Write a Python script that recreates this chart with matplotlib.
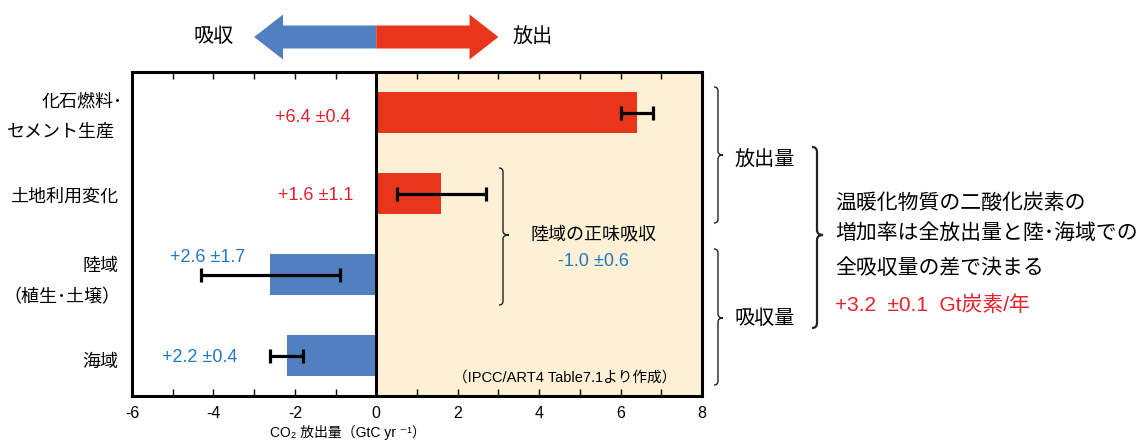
import matplotlib
matplotlib.use("Agg")
import matplotlib.pyplot as plt
from matplotlib.patches import Polygon, PathPatch
from matplotlib.path import Path
from matplotlib import transforms
from matplotlib.ticker import MultipleLocator

plt.rcParams['font.family'] = ['Liberation Sans', 'Noto Sans CJK JP', 'DejaVu Sans']
plt.rcParams['axes.unicode_minus'] = False

# ---- data (GtC / yr) ----
categories = ["化石燃料･\nセメント生産", "土地利用変化", "陸域\n（植生･土壌）", "海域"]
flux = [6.4, 1.6, -2.6, -2.2]          # + emission, - uptake
uncertainty = [0.4, 1.1, 1.7, 0.4]
net_land = -1.0
net_land_err = 0.6
growth = 3.2
growth_err = 0.1
xticks = [-6, -4, -2, 0, 2, 4, 6, 8]

RED = "#E8361C"
BLUE = "#5080C0"
BEIGE = "#FDF0D5"
TXT_RED = "#E8202A"
TXT_BLUE = "#1F78C8"

W, H = 1138, 441
fig = plt.figure(figsize=(W / 100, H / 100), dpi=100)


def fx(x):
    return x / W


def fy(y):
    return 1 - y / H


ax = fig.add_axes([fx(132), fy(396), (702 - 132) / W, (396 - 72) / H])
ax.set_xlim(-6, 8)
ax.set_ylim(3.5, -0.5)
ax.axvspan(0, 8, color=BEIGE, zorder=0, lw=0)

pos = list(range(len(categories)))
colors = [RED if v > 0 else BLUE for v in flux]
ax.barh(pos, flux, height=0.5, color=colors, zorder=2,
        xerr=uncertainty,
        error_kw=dict(ecolor="black", elinewidth=2.3, capsize=4.7, capthick=2.3, zorder=3))
ax.axvline(0, color="black", lw=2.2, zorder=4)

for s in ax.spines.values():
    s.set_linewidth(2.2)
    s.set_zorder(5)

ax.set_xticks(xticks)
ax.set_xticklabels([str(t) for t in xticks])
ax.xaxis.set_minor_locator(MultipleLocator(1))
ax.tick_params(axis="x", which="both", direction="in", top=True, length=5, width=1,
               labelsize=11.5, pad=7)
ax.set_yticks([])

# category labels on the left (one text per line, right-aligned)
label_px = [[(123, 102), (115, 132)],
            [(118, 197)],
            [(118, 267), (120, 298)],
            [(118, 362)]]
for name, places in zip(categories, label_px):
    for s, (x, y) in zip(name.split("\n"), places):
        fig.text(fx(x), fy(y), s, ha="right", va="center", fontsize=13)

# value labels
val_px = [(313, 117), (316, 196), (208, 257), (200, 357)]
for v, e, (x, y) in zip(flux, uncertainty, val_px):
    fig.text(fx(x), fy(y), f"+{abs(v):.1f} ±{e:.1f}", ha="center", va="center",
             fontsize=13, color=TXT_RED if v > 0 else TXT_BLUE)

# x axis title
fig.text(fx(348), fy(432), "CO₂ 放出量（GtC yr ⁻¹）", ha="center", va="center", fontsize=10)

# direction arrows above the axes
bt = transforms.blended_transform_factory(ax.transData, fig.transFigure)
cy, sh, hh, hl = 37, 11.5, 22.5, 0.71
for tip, col in [(-3.0, BLUE), (3.0, RED)]:
    b = tip - hl if tip > 0 else tip + hl
    pts = [(0, cy - sh), (b, cy - sh), (b, cy - hh), (tip, cy), (b, cy + hh), (b, cy + sh), (0, cy + sh)]
    poly = Polygon([(x, fy(y)) for x, y in pts], closed=True, facecolor=col, edgecolor="none",
                   transform=bt, clip_on=False)
    fig.add_artist(poly)
fig.text(fx(214), fy(37), "吸収", ha="center", va="center", fontsize=14.5)
fig.text(fx(533), fy(37), "放出", ha="center", va="center", fontsize=14.5)


def brace(x, y0, y1, ym, tip=5, r=4, lw=1.0):
    verts = [(x - r, y0), (x, y0), (x, y0 + r), (x, ym - r), (x, ym), (x + tip, ym),
             (x, ym), (x, ym + r), (x, y1 - r), (x, y1), (x - r, y1)]
    codes = [Path.MOVETO, Path.CURVE3, Path.CURVE3, Path.LINETO, Path.CURVE3, Path.CURVE3,
             Path.CURVE3, Path.CURVE3, Path.LINETO, Path.CURVE3, Path.CURVE3]
    p = Path([(fx(a), fy(b)) for a, b in verts], codes)
    fig.add_artist(PathPatch(p, facecolor="none", edgecolor="#222222", lw=lw,
                             transform=fig.transFigure, clip_on=False))


brace(503, 168, 305, 235, tip=6)
brace(718, 87, 223, 155)
brace(718, 249, 385, 318)
brace(817, 147, 328, 235, tip=6, r=5, lw=1.6)

fig.text(fx(593), fy(235), "陸域の正味吸収", ha="center", va="center", fontsize=13)
fig.text(fx(593), fy(262), f"{net_land:.1f} ±{net_land_err:.1f}", ha="center", va="center",
         fontsize=13, color=TXT_BLUE)
fig.text(fx(453), fy(378), "（IPCC/ART4 Table7.1より作成）", ha="left", va="center", fontsize=10.5)

fig.text(fx(735), fy(160), "放出量", ha="left", va="center", fontsize=14.5)
fig.text(fx(735), fy(318), "吸収量", ha="left", va="center", fontsize=14.5)
fig.text(fx(835), fy(203), "温暖化物質の二酸化炭素の", ha="left", va="center", fontsize=15)
fig.text(fx(835), fy(233), "増加率は全放出量と陸･海域での", ha="left", va="center", fontsize=15)
fig.text(fx(835), fy(268), "全吸収量の差で決まる", ha="left", va="center", fontsize=15)
fig.text(fx(835), fy(305), f"+{growth:.1f}  ±{growth_err:.1f}  Gt炭素/年", ha="left", va="center",
         fontsize=15, color=TXT_RED)

fig.savefig("out.png", dpi=100)
